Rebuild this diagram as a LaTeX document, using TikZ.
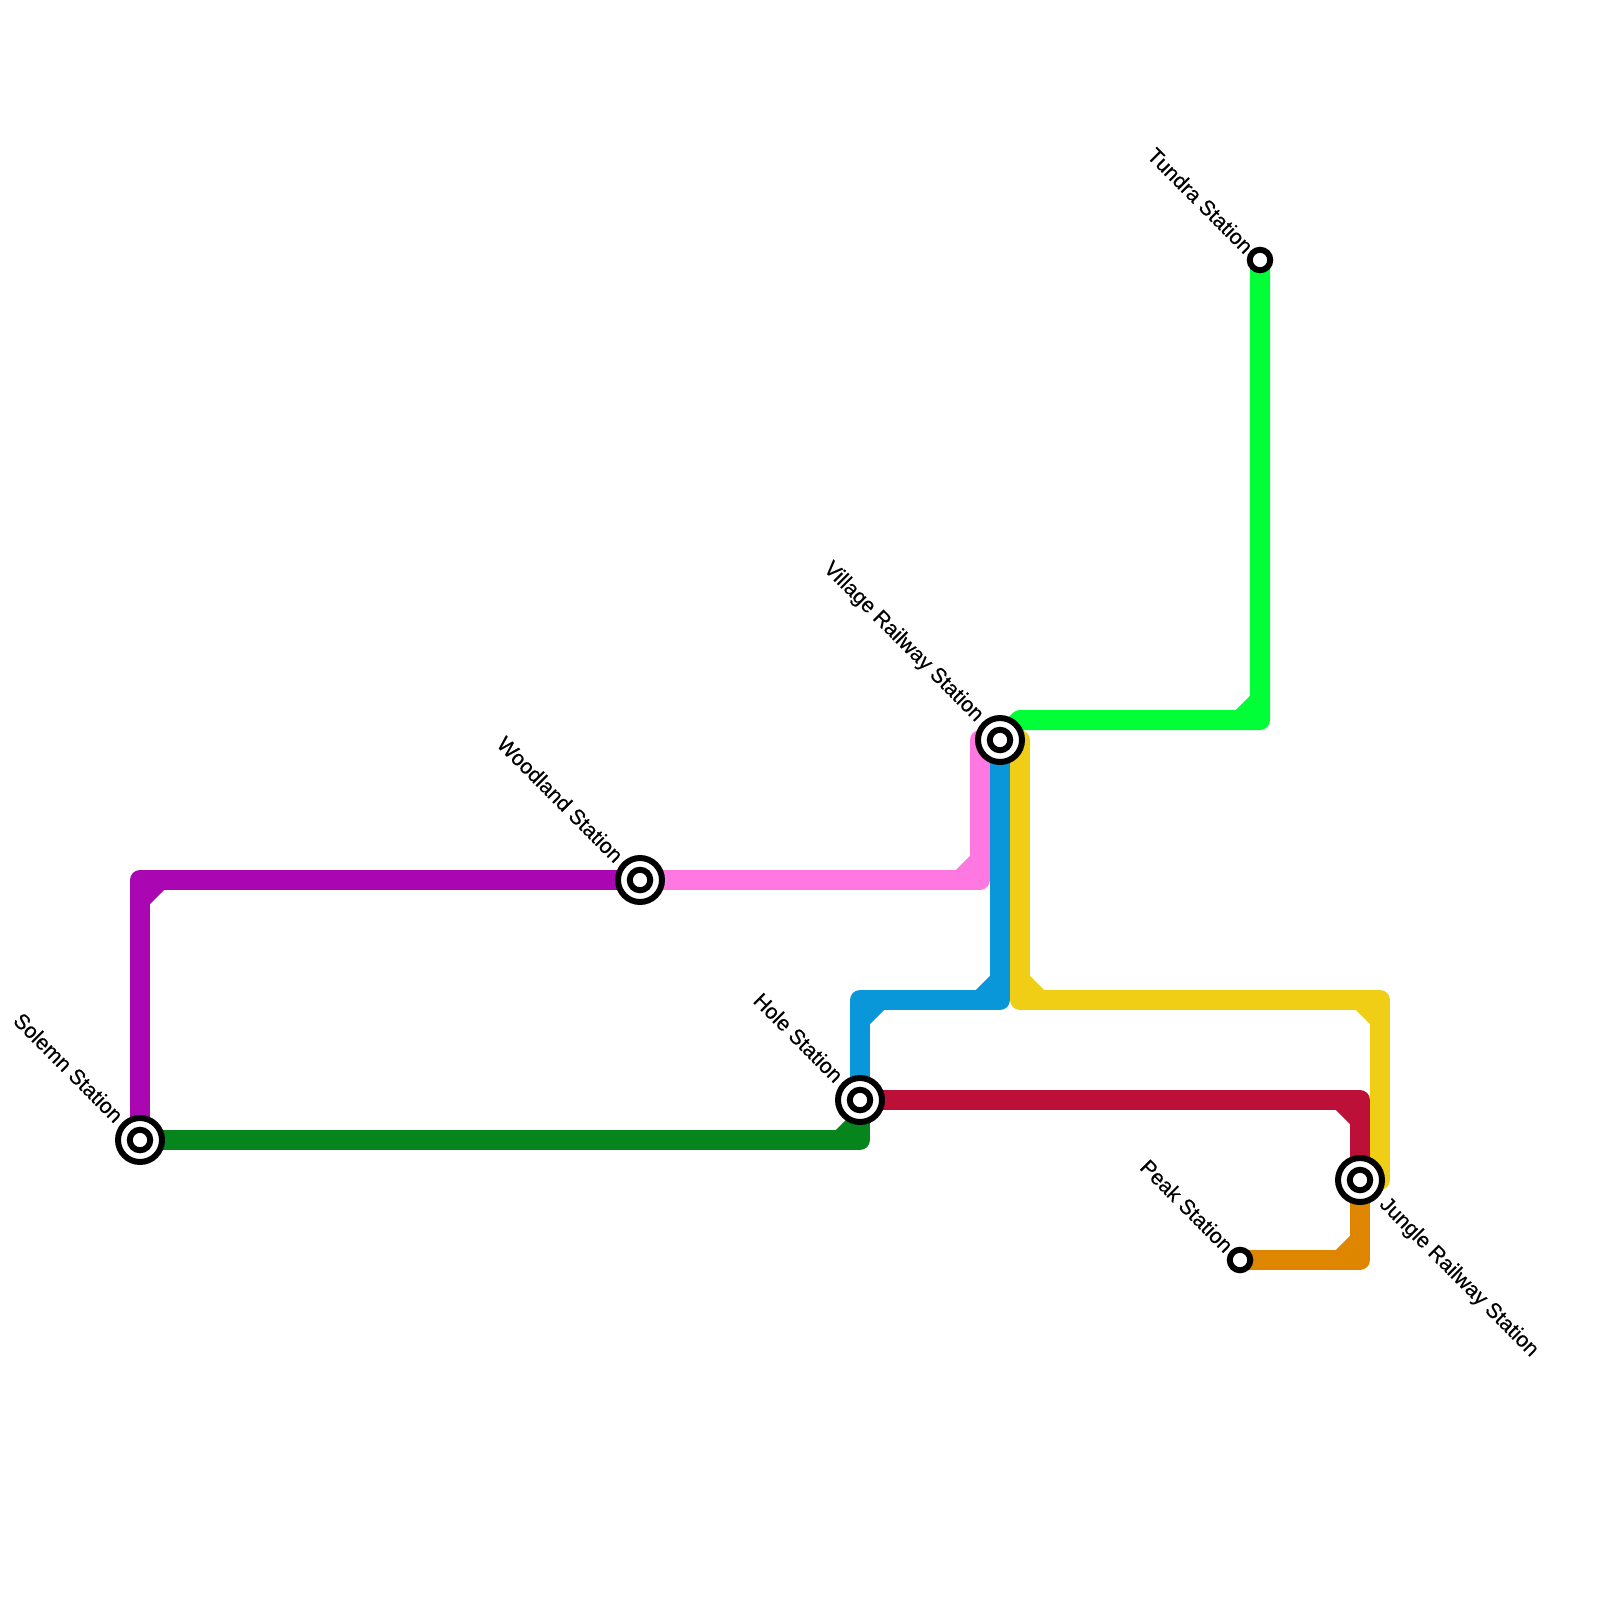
\documentclass[tikz,border=0pt]{standalone}
\usepackage{fontspec}
\setmainfont{Liberation Sans}[FakeBold=0.25]
\definecolor{PurpleLine}{HTML}{AA06B1}
\definecolor{PinkLine}{HTML}{FF77E0}
\definecolor{BlueLine}{HTML}{0A97D9}
\definecolor{YellowLine}{HTML}{F0CE15}
\definecolor{LimeLine}{HTML}{00FF37}
\definecolor{GreenLine}{HTML}{05851C}
\definecolor{RedLine}{HTML}{BC1038}
\definecolor{OrangeLine}{HTML}{DF8600}
\tikzset{
    route/.style={line width=2mm,line join=round,line cap=round},
    bigstop/.style={circle,draw=black,fill=white,line width=1.7pt,minimum size=4.4mm,inner sep=0pt},
    stop/.style={circle,draw=black,fill=white,line width=1.7pt,minimum size=2.05mm,inner sep=0pt},
    stoplabel/.style={rotate=-45,font=\fontsize{6.05pt}{8pt}\selectfont,inner sep=0pt},
}
\begin{document}
\begin{tikzpicture}[x=2mm,y=-2mm]
                \useasboundingbox (0,0) rectangle (80,80);
                \coordinate (SolemnStation) at (7,57);
                \coordinate (WoodlandStation) at (32,44);
                \coordinate (VillageStation) at (50,37);
                \coordinate (HoleStation) at (43,55);
                \coordinate (JungleStation) at (68,59);
                \coordinate (PeakStation) at (62,63);
                \coordinate (TundraStation) at (63,13);

                \coordinate (PurpleCorner) at (7,44);
                \coordinate (PinkCorner) at (49,44);
                \coordinate (PinkTop) at (49,37);
                \coordinate (BlueCornerRight) at (50,50);
                \coordinate (BlueCornerLeft) at (43,50);
                \coordinate (YellowTop) at (51,37);
                \coordinate (YellowCornerLeft) at (51,50);
                \coordinate (YellowCornerRight) at (69,50);
                \coordinate (YellowEnd) at (69,59);
                \coordinate (LimeStart) at (51,36);
                \coordinate (LimeCorner) at (63,36);
                \coordinate (GreenCorner) at (43,57);
                \coordinate (RedCorner) at (68,55);
                \coordinate (OrangeCorner) at (68,63);

                \draw[route,PurpleLine] (SolemnStation)--(PurpleCorner)--(WoodlandStation);
                \draw[route,PurpleLine,line cap=butt] (7,45)--(8,44);
                \draw[route,PinkLine] (WoodlandStation)--(PinkCorner)--(PinkTop);
                \draw[route,PinkLine,line cap=butt] (48,44)--(49,43);
                \draw[route,BlueLine] (VillageStation)--(BlueCornerRight)--(BlueCornerLeft)--(HoleStation);
                \draw[route,BlueLine,line cap=butt] (50,49)--(49,50);
                \draw[route,BlueLine,line cap=butt] (43,51)--(44,50);
                \draw[route,YellowLine] (YellowTop)--(YellowCornerLeft)--(YellowCornerRight)--(YellowEnd);
                \draw[route,YellowLine,line cap=butt] (51,49)--(52,50);
                \draw[route,YellowLine,line cap=butt] (68,50)--(69,51);
                \draw[route,LimeLine] (VillageStation)--(LimeStart)--(LimeCorner)--(TundraStation);
                \draw[route,LimeLine,line cap=butt] (62,36)--(63,35);
                \draw[route,GreenLine] (SolemnStation)--(GreenCorner)--(HoleStation);
                \draw[route,GreenLine,line cap=butt] (42,57)--(43,56);
                \draw[route,RedLine] (HoleStation)--(RedCorner)--(JungleStation);
                \draw[route,RedLine,line cap=butt] (67,55)--(68,56);
                \draw[route,OrangeLine] (JungleStation)--(OrangeCorner)--(PeakStation);
                \draw[route,OrangeLine,line cap=butt] (68,62)--(67,63);

                \foreach \name/\where in {SolemnStop/SolemnStation,WoodlandStop/WoodlandStation,VillageStop/VillageStation,HoleStop/HoleStation,JungleStop/JungleStation}{
                    \node[bigstop] (\name) at (\where) {};
                    \node[stop] at (\where) {};
                }
                \node[stop] (PeakStop) at (PeakStation) {};
                \node[stop] (TundraStop) at (TundraStation) {};

                \node[stoplabel,anchor=east] (SolemnText) at (6,55.95) {Solemn Station};
                \node[stoplabel,anchor=east] (WoodlandText) at (31,42.95) {Woodland Station};
                \node[stoplabel,anchor=east] (VillageText) at (49,35.95) {Village Railway Station};
                \node[stoplabel,anchor=east] (HoleText) at (42,53.95) {Hole Station};
                \node[stoplabel,anchor=east] (PeakText) at (61.5,62.45) {Peak Station};
                \node[stoplabel,anchor=east] (TundraText) at (62.5,12.5) {Tundra Station};
                \node[stoplabel,anchor=west] (JungleText) at (69.1,60.05) {Jungle Railway Station};
            \end{tikzpicture}
\end{document}
